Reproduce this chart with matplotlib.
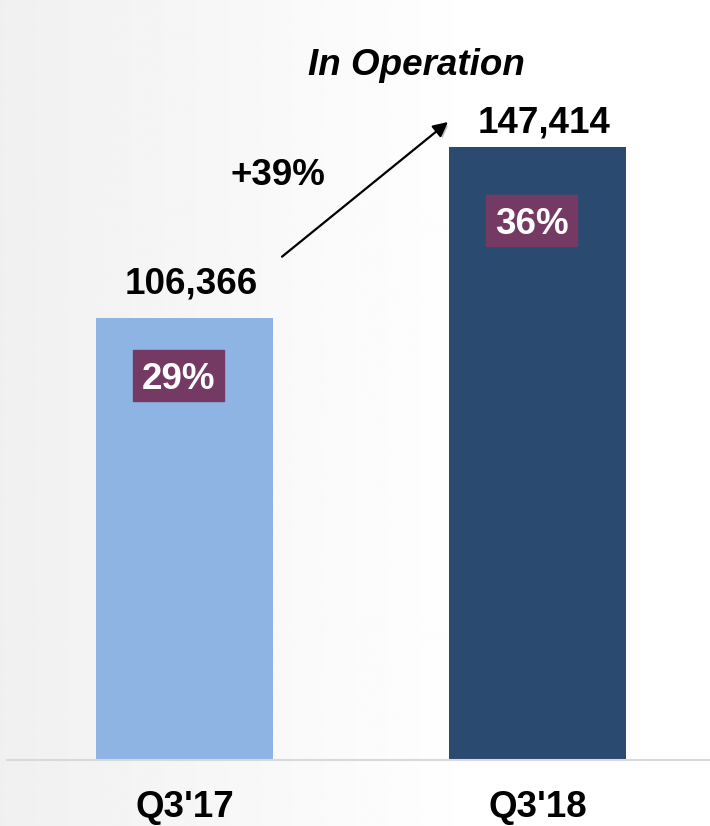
import numpy as np
import matplotlib.pyplot as plt
from matplotlib.patches import Rectangle
import matplotlib.patheffects as pe

plt.rcParams['font.family'] = ['Liberation Sans', 'DejaVu Sans']

# data
quarters = ["Q3'17", "Q3'18"]
in_operation = [106366, 147414]
share = ['29%', '36%']
bar_colors = ['#8EB4E3', '#2B4A70']
box_color = '#753A64'
title = 'In Operation'

W, H = 710, 826
fig = plt.figure(figsize=(W / 100, H / 100), dpi=100)

# soft grey-to-white background
bg = fig.add_axes([0, 0, 1, 1])
grad = np.clip(np.linspace(240, 262, 256), 0, 255) / 255
bg.imshow(np.tile(grad, (2, 1)), cmap='gray', vmin=0, vmax=1, aspect='auto',
          extent=[0, 1, 0, 1])
bg.set_axis_off()

# main axes: baseline at y=760px, zero at bottom
px_unit = 353.0                      # pixels between the two bar centres
ytop = in_operation[1] * 760 / 613   # top of axes in data units
ax = fig.add_axes([7 / W, 66 / H, 703 / W, 760 / H])
ax.patch.set_visible(False)
ax.set_xlim(-(184.5 - 7) / px_unit, (710 - 184.5) / px_unit)
ax.set_ylim(0, ytop)
ypx = ytop / 760                     # data units per pixel (vertical)
xpx = 1 / px_unit                    # data units per pixel (horizontal)

x = np.arange(len(quarters))
ax.bar(x, in_operation, width=0.5, color=bar_colors, zorder=2)

# value labels above bars
lift = [24, 15]
for i, v in enumerate(in_operation):
    ax.text(i + 7 * xpx, v + lift[i] * ypx, f'{v:,}', ha='center', va='baseline',
            fontsize=26.5, fontweight='bold', color='black')

# share boxes inside bars
drop = [32, 48]
bw, bh = 91 * xpx, 51 * ypx
for i, v in enumerate(in_operation):
    cx = i - 6 * xpx
    top = v - drop[i] * ypx
    ax.add_patch(Rectangle((cx - bw / 2, top - bh), bw, bh, color=box_color, zorder=3))
    ax.text(cx, top - 39 * ypx, share[i], ha='center', va='baseline',
            fontsize=26.5, fontweight='bold', color='white', zorder=4)

# growth arrow
growth = in_operation[1] / in_operation[0] - 1
start = (97.5 * xpx, in_operation[0] + 61 * ypx)
end = (1 - 89.5 * xpx, in_operation[1] + 25 * ypx)
ax.annotate('', xy=end, xytext=start,
            arrowprops=dict(arrowstyle='-|>', color='black', lw=1.6,
                            mutation_scale=22, shrinkA=0, shrinkB=0,
                            path_effects=[pe.withSimplePatchShadow(offset=(1.5, -1.5),
                                                                   alpha=0.25)]))
ax.text(93.5 * xpx, (760 - 185) * ypx, f'+{growth:.0%}', ha='center', va='baseline',
        fontsize=26.5, fontweight='bold', color='black')

fig.text(416 / W, 1 - 75 / H, title, ha='center', va='baseline',
         fontsize=26.5, fontweight='bold', fontstyle='italic', color='black')

# axis styling
for s in ['top', 'right', 'left']:
    ax.spines[s].set_visible(False)
ax.spines['bottom'].set_color('#D9D9D9')
ax.spines['bottom'].set_linewidth(1.5)
ax.set_yticks([])
ax.set_xticks(x, quarters)
ax.tick_params(axis='x', length=0, pad=21.5, labelsize=26.5)
for lab in ax.get_xticklabels():
    lab.set_fontweight('bold')

fig.savefig('out.png', dpi=100)
